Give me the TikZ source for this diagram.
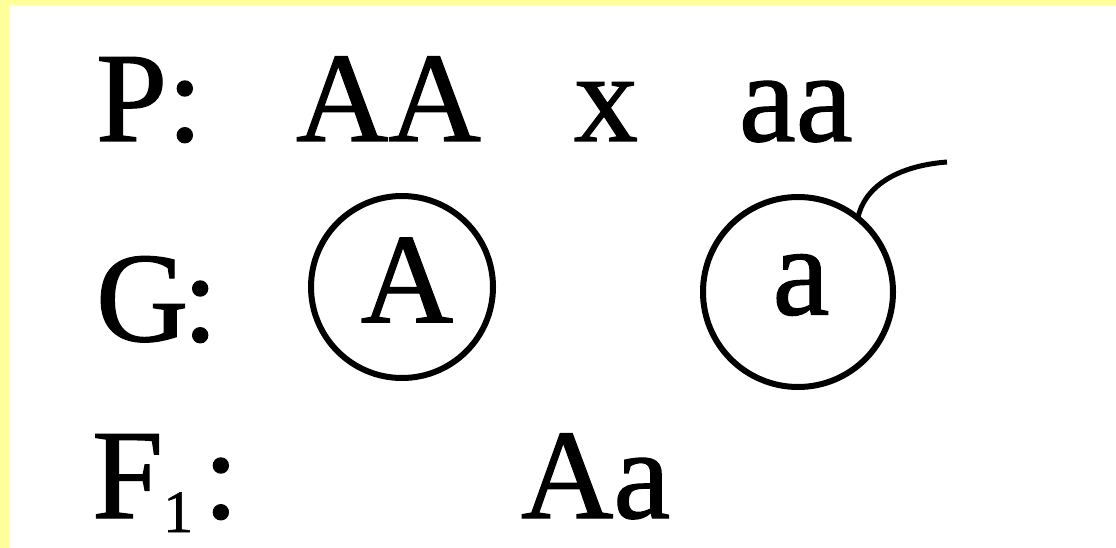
\documentclass[tikz,border=0pt]{standalone}
\usepackage{fontspec}
\setmainfont{Liberation Serif}
\newfontfamily\heavy{Liberation Serif}[FakeBold=1]
\definecolor{bordery}{RGB}{255,255,153}
\begin{document}
\begin{tikzpicture}[x=1pt,y=-1pt,
  txt/.style={inner sep=0pt,outer sep=0pt,anchor=base west,font=\heavy\fontsize{128}{128}\selectfont},
  ctxt/.style={inner sep=0pt,outer sep=0pt,anchor=center,font=\heavy\fontsize{128}{128}\selectfont},
  gamete/.style={circle,draw,line width=6pt,inner sep=0pt,outer sep=0pt}]
\useasboundingbox (0,0) rectangle (1116,548);
\fill[bordery] (0,0) rectangle (1116,548);
\fill[white] (9,5) rectangle (1116,548);
% row P
\node[txt] (P) at (96,141) {P:};
\node[txt] (AA) at (296,141) {AA};
\node[txt] (x) at (574,141) {x};
\node[txt] (aa) at (739,141) {aa};
% row G
\node[txt] (G) at (96,341) {G\kern-6pt:};
\node[gamete,minimum size=182pt] (cA) at (402,287) {};
\node[ctxt] (tA) at (407,280) {A};
\node[gamete,minimum size=190pt] (ca) at (798,292) {};
\node[ctxt] (ta) at (801,285) {a};
\coordinate (tailend) at (947,162);
\draw[line width=5pt] (ca.51) .. controls (864,188) and (895,166) .. (tailend);
% row F1
\node[txt] (F) at (92,518) {F\raisebox{-14pt}{\fontsize{60}{60}\selectfont 1}\kern10pt:};
\node[txt] (Aa) at (521,518) {Aa};
\end{tikzpicture}
\end{document}
